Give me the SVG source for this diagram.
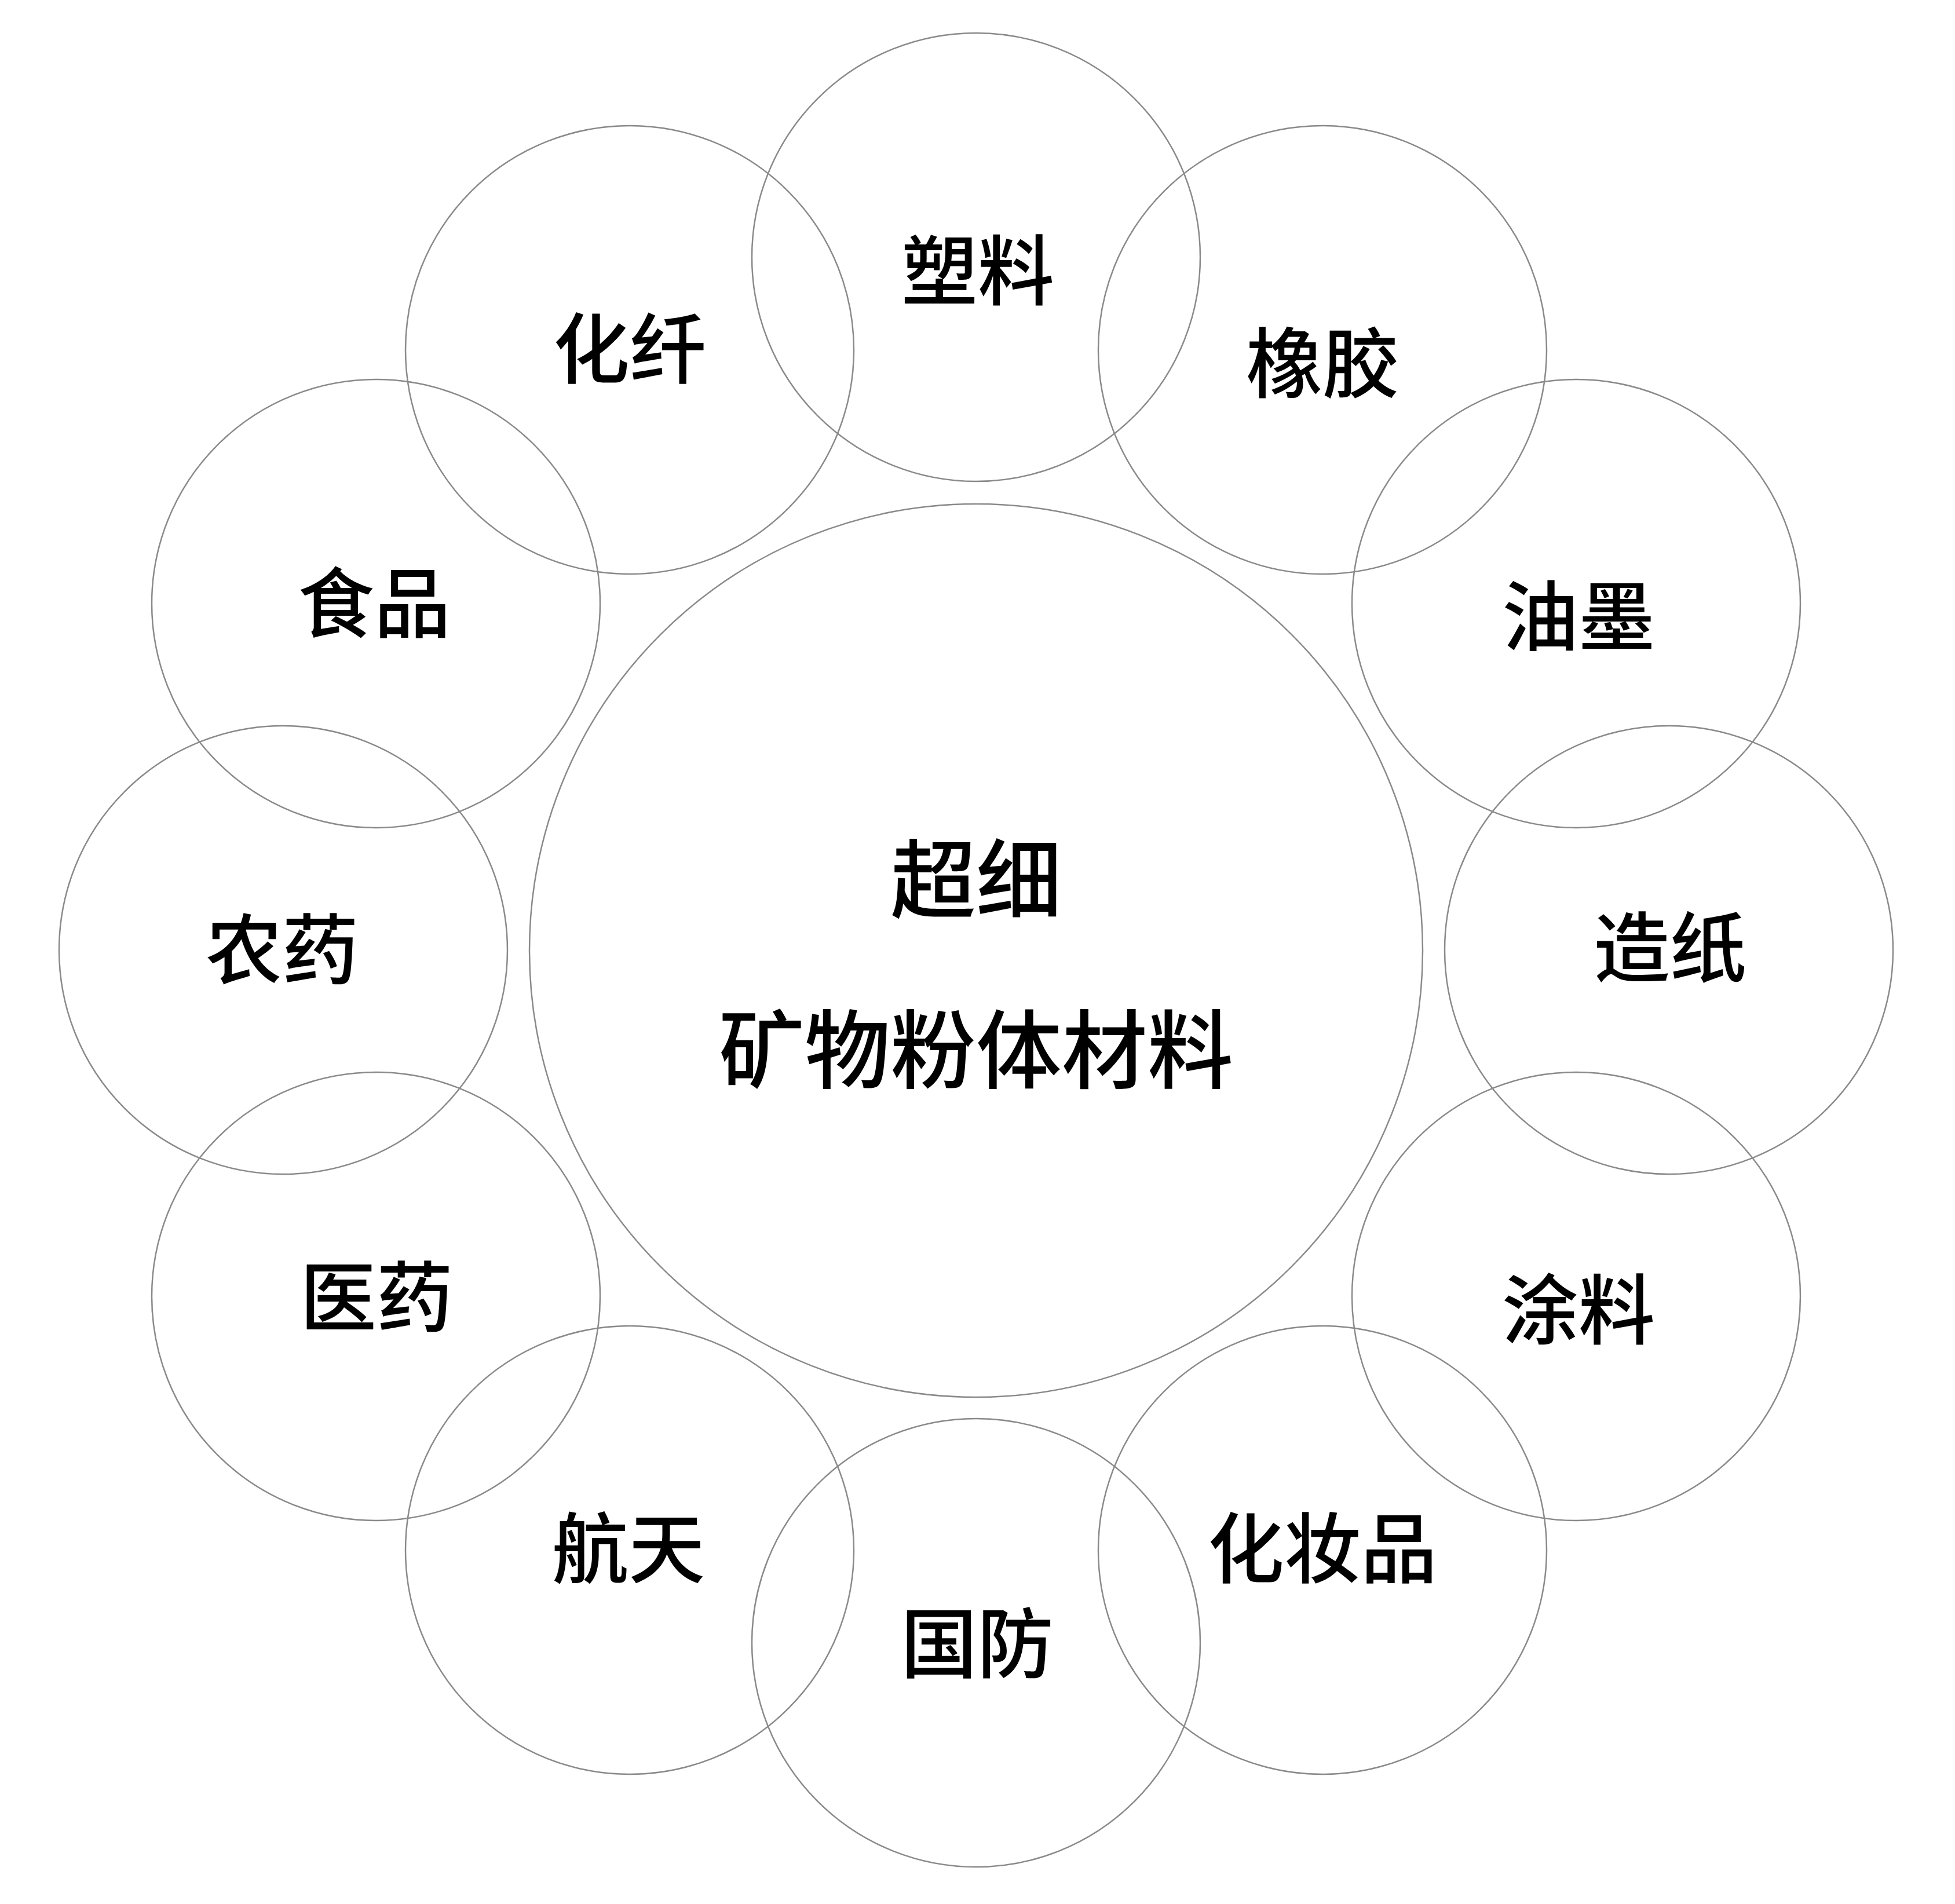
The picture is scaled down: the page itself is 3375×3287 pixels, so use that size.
<svg xmlns="http://www.w3.org/2000/svg" width="3375" height="3287" viewBox="0 0 3375 3287">
<style>
.c{fill:none;stroke:#8a8a8a;stroke-width:2.5}
.t{font-family:"Noto Sans CJK SC","Noto Sans CJK TC",sans-serif;font-size:132px;font-weight:500;fill:#000;text-anchor:middle;dominant-baseline:central}
.m{font-size:148px}
</style>
<rect width="3375" height="3287" fill="#fff"/>
<g id="center"><circle class="c" cx="1685" cy="1641" r="771"/><text class="t m" x="1685" y="1508">超细</text><text class="t m" x="1685" y="1802">矿物粉体材料</text></g>
<g id="n1"><circle class="c" cx="1685" cy="444" r="387"/><text class="t" x="1688" y="458">塑料</text></g>
<g id="n2"><circle class="c" cx="2283" cy="604" r="387"/><text class="t" x="2283" y="618">橡胶</text></g>
<g id="n3"><circle class="c" cx="2721" cy="1042" r="387"/><text class="t" x="2725" y="1055">油墨</text></g>
<g id="n4"><circle class="c" cx="2881" cy="1640" r="387"/><text class="t" x="2883" y="1627">造纸</text></g>
<g id="n5"><circle class="c" cx="2721" cy="2238" r="387"/><text class="t" x="2725" y="2252">涂料</text></g>
<g id="n6"><circle class="c" cx="2283" cy="2676" r="387"/><text class="t" x="2283" y="2664">化妆品</text></g>
<g id="n7"><circle class="c" cx="1685" cy="2836" r="387"/><text class="t" x="1687" y="2828">国防</text></g>
<g id="n8"><circle class="c" cx="1087" cy="2676" r="387"/><text class="t" x="1085" y="2664">航天</text></g>
<g id="n9"><circle class="c" cx="649" cy="2238" r="387"/><text class="t" x="650" y="2230">医药</text></g>
<g id="n10"><circle class="c" cx="489" cy="1640" r="387"/><text class="t" x="487" y="1630">农药</text></g>
<g id="n11"><circle class="c" cx="649" cy="1042" r="387"/><text class="t" x="646" y="1032">食品</text></g>
<g id="n12"><circle class="c" cx="1087" cy="604" r="387"/><text class="t" x="1087" y="593">化纤</text></g>
<g id="connectors"/>
</svg>
